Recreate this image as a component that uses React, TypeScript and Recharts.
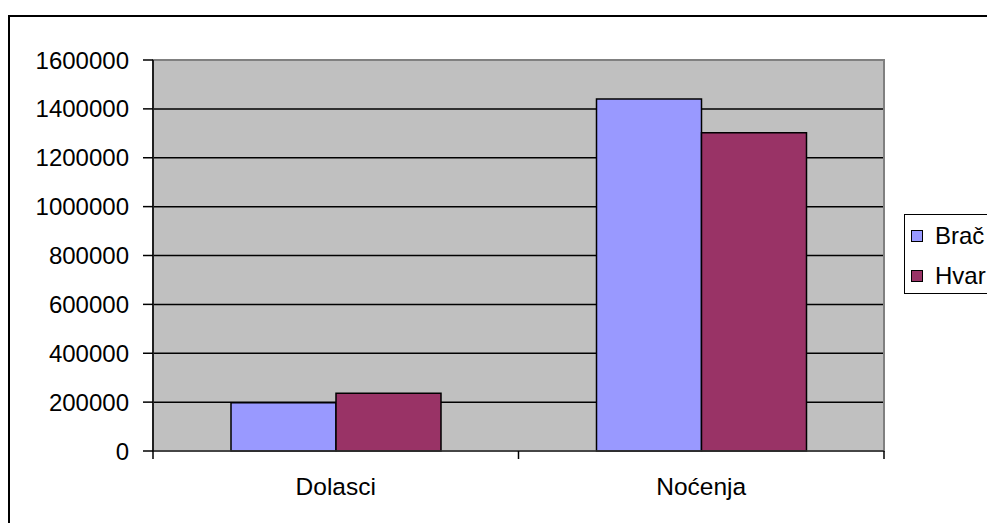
import React from "react";
import {
  BarChart, Bar, XAxis, YAxis, CartesianGrid, Legend, ReferenceArea,
} from "recharts";

const CATEGORIES = ["Dolasci", "Noćenja"];
const BRAC = [197000, 1440000];
const HVAR = [236000, 1302000];
const Y_TICKS = [0, 200000, 400000, 600000, 800000, 1000000, 1200000, 1400000, 1600000];

const SERIES = [
  { key: "brac", name: "Brač", color: "#9999FF" },
  { key: "hvar", name: "Hvar", color: "#993366" },
];

const data = CATEGORIES.map((c, i) => ({ name: c, brac: BRAC[i], hvar: HVAR[i] }));

const W = 987;
const H = 523;
const FONT = "Arial, 'Liberation Sans', sans-serif";
const PLOT_LEFT = 153;
const PLOT_RIGHT = 884;
const BAND = (PLOT_RIGHT - PLOT_LEFT) / CATEGORIES.length;

// category ticks sit on the band edges, like the Excel original
function CategoryTick(props: any) {
  const { x, y, payload, index } = props;
  const left = x - BAND / 2;
  const right = x + BAND / 2;
  return (
    <g>
      <line x1={left} x2={left} y1={y} y2={y + 8} stroke="#000" strokeWidth={1.5} />
      {index === CATEGORIES.length - 1 && (
        <line x1={right} x2={right} y1={y} y2={y + 8} stroke="#000" strokeWidth={1.5} />
      )}
      <text x={x} y={y + 44} textAnchor="middle" fontSize={24.5} fontFamily={FONT} fill="#000">
        {payload.value}
      </text>
    </g>
  );
}

function LegendBox() {
  return (
    <div
      style={{
        width: 120,
        height: 80,
        border: "1.5px solid #000",
        background: "#fff",
        boxSizing: "border-box",
        fontFamily: FONT,
        fontSize: 24,
        color: "#000",
        paddingTop: 1,
      }}
    >
      {SERIES.map((s) => (
        <div key={s.key} style={{ display: "flex", alignItems: "center", height: 40, paddingLeft: 6 }}>
          <span
            style={{
              display: "inline-block",
              width: 10,
              height: 10,
              background: s.color,
              border: "1px solid #000",
              marginRight: 12,
            }}
          />
          <span style={{ lineHeight: "24px" }}>{s.name}</span>
        </div>
      ))}
    </div>
  );
}

export default function App() {
  return (
    <div style={{ position: "absolute", left: 0, top: 0, width: W, height: H, overflow: "hidden", background: "#fff" }}>
      <div
        style={{
          position: "absolute",
          left: 8,
          top: 15,
          width: W + 50,
          height: H + 50,
          border: "2px solid #000",
          boxSizing: "border-box",
        }}
      />
      <div style={{ position: "absolute", left: 0, top: 0 }}>
        <BarChart
          width={W}
          height={H}
          data={data}
          margin={{ top: 60, right: W - PLOT_RIGHT, bottom: 32, left: 0 }}
          barGap={0}
          barSize={105}
        >
          <CartesianGrid vertical={false} stroke="#000" strokeWidth={1.5} fill="#C0C0C0" fillOpacity={1} />
          <ReferenceArea y1={0} y2={1600000} fill="none" stroke="#808080" strokeWidth={2} />
          <XAxis
            dataKey="name"
            height={40}
            axisLine={{ stroke: "#333", strokeWidth: 1.5 }}
            tickLine={false}
            tickSize={0}
            tickMargin={0}
            tick={<CategoryTick />}
            interval={0}
          />
          <YAxis
            width={PLOT_LEFT}
            domain={[0, 1600000]}
            ticks={Y_TICKS}
            interval={0}
            axisLine={{ stroke: "#000", strokeWidth: 1.5 }}
            tickLine={{ stroke: "#000", strokeWidth: 1.5 }}
            tickSize={10}
            tickMargin={14}
            tick={{ fontSize: 24, fontFamily: FONT, fill: "#000" }}
          />
          <Legend
            layout="horizontal"
            align="center"
            verticalAlign="middle"
            content={() => <LegendBox />}
            wrapperStyle={{ left: 904, top: 214, width: 120, height: 80 }}
          />
          {SERIES.map((s) => (
            <Bar
              key={s.key}
              dataKey={s.key}
              name={s.name}
              fill={s.color}
              stroke="#000"
              strokeWidth={1.5}
              isAnimationActive={false}
            />
          ))}
        </BarChart>
      </div>
    </div>
  );
}
